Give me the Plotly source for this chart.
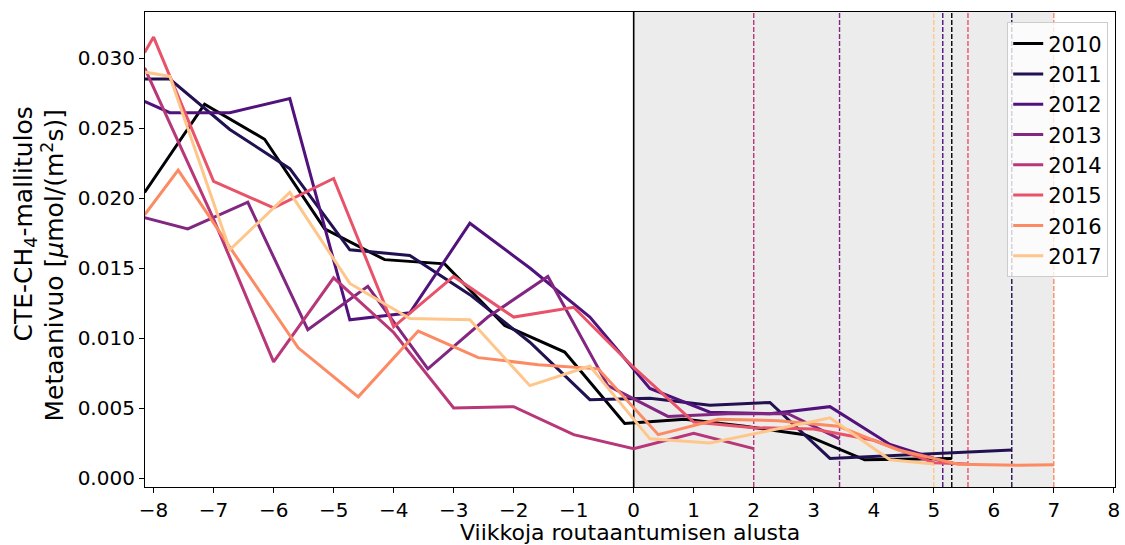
import plotly.graph_objects as go

years = ["2010", "2011", "2012", "2013", "2014", "2015", "2016", "2017"]
colors = ["#000004", "#221150", "#51127c", "#822681", "#b73779",
          "#e8536a", "#fc8a62", "#fec68a"]

x_2010 = [-8.15, -7.15, -6.15, -5.15, -4.15, -3.15, -2.15, -1.15, -0.15, 0.85, 1.85, 2.85, 3.85, 4.85, 5.3]
y_2010 = [0.0204, 0.0267, 0.0242, 0.0178, 0.0156, 0.0153, 0.0109, 0.0090, 0.0039, 0.0042, 0.0037, 0.0031, 0.0013, 0.00136, 0.0014]

x_2011 = [-8.15, -7.73, -6.73, -5.73, -4.73, -3.73, -2.73, -1.73, -0.73, 0.27, 1.27, 2.27, 3.27, 4.27, 5.27, 6.3]
y_2011 = [0.0285, 0.0285, 0.0249, 0.0221, 0.0163, 0.0159, 0.0131, 0.0097, 0.0056, 0.0057, 0.0052, 0.0054, 0.0014, 0.0016, 0.0018, 0.0020]

x_2012 = [-8.15, -7.73, -6.73, -5.73, -4.73, -3.73, -2.73, -1.73, -0.73, 0.27, 1.27, 2.27, 3.27, 4.27, 5.15]
y_2012 = [0.0269, 0.0261, 0.0261, 0.0271, 0.0113, 0.0118, 0.0182, 0.0150, 0.0115, 0.0064, 0.0047, 0.0046, 0.0051, 0.0024, 0.0012]

x_2013 = [-8.15, -7.43, -6.43, -5.43, -4.43, -3.43, -2.43, -1.43, -0.43, 0.57, 1.57, 2.57, 3.43]
y_2013 = [0.0186, 0.0178, 0.0197, 0.0106, 0.0137, 0.0078, 0.0115, 0.0144, 0.0066, 0.0044, 0.0046, 0.0046, 0.0028]

x_2014 = [-8.15, -7, -6, -5, -4, -3, -2, -1, 0, 1, 2]
y_2014 = [0.0293, 0.0185, 0.0083, 0.0143, 0.0104, 0.0050, 0.0051, 0.0031, 0.0021, 0.0032, 0.0021]

x_2015 = [-8.15, -8, -7, -6, -5, -4, -3, -2, -1, 0, 1, 2, 3, 4, 5, 5.57]
y_2015 = [0.0304, 0.0315, 0.0212, 0.0193, 0.0214, 0.0108, 0.0144, 0.0115, 0.0122, 0.0079, 0.0040, 0.0036, 0.0035, 0.0027, 0.0011, 0.0010]

x_2016 = [-8.15, -7.59, -6.59, -5.59, -4.59, -3.59, -2.59, -1.59, -0.59, 0.41, 1.41, 2.41, 3.41, 4.41, 5.41, 6.41, 7.0]
y_2016 = [0.0188, 0.0220, 0.0156, 0.0093, 0.0058, 0.0105, 0.0086, 0.0081, 0.0078, 0.0031, 0.0042, 0.0041, 0.0037, 0.0020, 0.00098, 0.00092, 0.00095]

x_2017 = [-8.15, -7.73, -6.73, -5.73, -4.73, -3.73, -2.73, -1.73, -0.73, 0.27, 1.27, 2.27, 3.27, 4.27, 5.0]
y_2017 = [0.0290, 0.0287, 0.0163, 0.0204, 0.0139, 0.0114, 0.0113, 0.0066, 0.0080, 0.0028, 0.0025, 0.0034, 0.0043, 0.0013, 0.0010]

xs = [x_2010, x_2011, x_2012, x_2013, x_2014, x_2015, x_2016, x_2017]
ys = [y_2010, y_2011, y_2012, y_2013, y_2014, y_2015, y_2016, y_2017]

x_ticks = list(range(-8, 9))
y_ticks = [0.000, 0.005, 0.010, 0.015, 0.020, 0.025, 0.030]

FONT = "DejaVu Sans"
fig = go.Figure()

for yr, c, x, y in zip(years, colors, xs, ys):
    fig.add_trace(go.Scatter(x=x, y=y, mode="lines", name=yr,
                             line=dict(color=c, width=3)))

shapes = []
end_max = max(x[-1] for x in xs)
shapes.append(dict(type="rect", xref="x", yref="paper", x0=0, x1=end_max,
                   y0=0, y1=1, fillcolor="#ececec", line=dict(width=0),
                   layer="below"))
for c, x in zip(colors, xs):
    shapes.append(dict(type="line", xref="x", yref="paper", x0=x[-1], x1=x[-1],
                       y0=0, y1=1, line=dict(color=c, width=1.4, dash="5px,2px"),
                       layer="below"))
shapes.append(dict(type="line", xref="x", yref="paper", x0=0, x1=0, y0=0, y1=1,
                   line=dict(color="black", width=1.6), layer="below"))

annotations = [
    dict(text="Viikkoja routaantumisen alusta", xref="paper", yref="paper",
         x=0.5, y=0, xanchor="center", yanchor="top", yshift=-31,
         showarrow=False, font=dict(family=FONT, size=22, color="black")),
    dict(text="CTE-CH<sub>4</sub>-mallitulos", xref="paper", yref="paper",
         x=0, y=(487 - 105) / 475, xanchor="center", yanchor="top",
         xshift=-121, textangle=-90, showarrow=False,
         font=dict(family=FONT, size=25, color="black")),
    dict(text="Metaanivuo [<i>μ</i>mol/(m<sup>2</sup>s)]", xref="paper", yref="paper",
         x=0, y=(487 - 107) / 475, xanchor="center", yanchor="top",
         xshift=-92, textangle=-90, showarrow=False,
         font=dict(family=FONT, size=25, color="black")),
]

fig.update_layout(
    width=1125, height=545,
    margin=dict(l=145, r=5, t=12, b=58),
    paper_bgcolor="white", plot_bgcolor="white",
    font=dict(family=FONT, size=20, color="black"),
    shapes=shapes, annotations=annotations,
    legend=dict(x=0.993, y=0.978, xanchor="right", yanchor="top",
                bgcolor="rgba(255,255,255,0.8)", bordercolor="#cccccc",
                borderwidth=1, font=dict(family=FONT, size=21)),
    xaxis=dict(range=[-8.143, 8.02], tickvals=x_ticks, showgrid=False,
               zeroline=False, showline=True, mirror=True, linecolor="black",
               linewidth=1.2, ticks="outside", ticklen=5, tickwidth=1.2,
               tickcolor="black", tickfont=dict(family=FONT, size=20),
               ticklabeloverflow="allow"),
    yaxis=dict(range=[-0.00064, 0.03329], tickvals=y_ticks, tickformat=".3f",
               showgrid=False, zeroline=False, showline=True, mirror=True,
               linecolor="black", linewidth=1.2, ticks="outside", ticklen=5,
               tickwidth=1.2, tickcolor="black",
               tickfont=dict(family=FONT, size=20)),
)

fig.write_html("out.html")
